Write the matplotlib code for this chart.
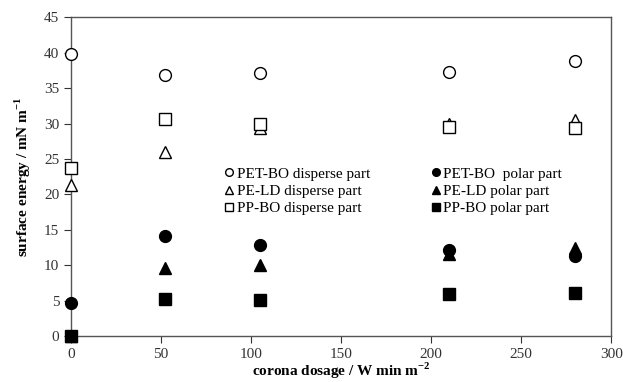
import matplotlib.pyplot as plt

plt.rcParams['font.family'] = ['Liberation Serif', 'DejaVu Serif']

# corona dosage values (W min m-2)
dosage = [0, 52, 105, 210, 280]

# disperse parts
pet_disperse = [39.8, 36.8, 37.1, 37.2, 38.8]
pe_disperse = [21.3, 26.0, 29.3, 30.0, 30.5]
pp_disperse = [23.7, 30.6, 29.9, 29.5, 29.3]

# polar parts
pet_polar = [4.7, 14.2, 12.9, 12.1, 11.3]
pe_polar = [0.0, 9.6, 10.1, 11.6, 12.4]
pp_polar = [0.0, 5.3, 5.1, 5.9, 6.1]

fig = plt.figure(figsize=(6.23, 3.82), dpi=100)
ax = fig.add_axes([0.114, 0.120, 0.867, 0.835])

ms = 8.5
ax.plot(dosage, pet_disperse, 'o', ms=ms, mfc='white', mec='black', mew=1.0, ls='none',
        label='PET-BO disperse part', clip_on=False, zorder=3)
ax.plot(dosage, pe_disperse, '^', ms=ms, mfc='white', mec='black', mew=1.0, ls='none',
        label='PE-LD disperse part', clip_on=False, zorder=3)
ax.plot(dosage, pp_disperse, 's', ms=ms, mfc='white', mec='black', mew=1.0, ls='none',
        label='PP-BO disperse part', clip_on=False, zorder=3)
ax.plot(dosage, pet_polar, 'o', ms=ms, color='black', ls='none',
        label='PET-BO  polar part', clip_on=False, zorder=4)
ax.plot(dosage, pe_polar, '^', ms=ms, color='black', ls='none',
        label='PE-LD polar part', clip_on=False, zorder=4)
ax.plot(dosage, pp_polar, 's', ms=ms, color='black', ls='none',
        label='PP-BO polar part', clip_on=False, zorder=5)

ax.set_xlim(0, 300)
ax.set_ylim(0, 45)
ax.set_xticks(range(0, 301, 50))
ax.set_yticks(range(0, 46, 5))
ax.tick_params(direction='out', length=5, width=0.8, labelsize=11, colors='#333333')
for s in ax.spines.values():
    s.set_color('#555555')
    s.set_linewidth(1.0)

ax.set_xlabel('corona dosage / W min m$^{\\mathregular{-2}}$', fontsize=11, fontweight='bold', labelpad=0)
ax.set_ylabel('surface energy / mN m$^{\\mathregular{-1}}$', fontsize=11, fontweight='bold', labelpad=8)

ax.legend(ncol=2, loc='center left', bbox_to_anchor=(0.27, 0.455), frameon=False,
          fontsize=11, markerscale=0.65, handlelength=0.6, handletextpad=0.2,
          columnspacing=4.0, labelspacing=0.22, borderpad=0)

fig.savefig('out.png', dpi=100)
